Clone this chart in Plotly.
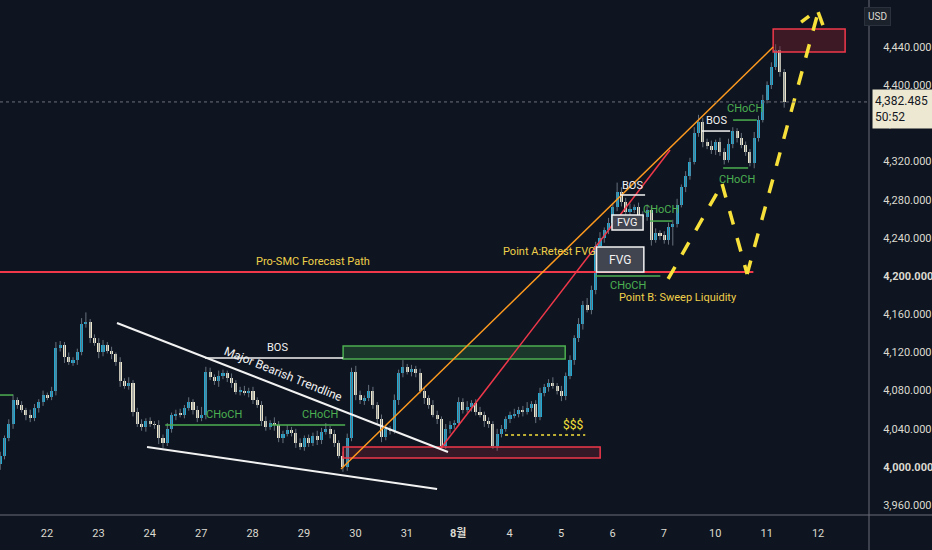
import plotly.graph_objects as go

# gold 1H chart rebuilt on ~2h bars, prices
day_labels = ["22", "23", "24", "27", "28", "29", "30", "31", "<b>8월</b>",
              "4", "5", "6", "7", "10", "11", "12"]
bars_per_day = 12
first_bar = -0.91          # first bar, in days before the "22" tick
first_open = 4003

closes = [
    4012, 4030, 4045, 4070, 4065, 4060, 4055, 4051, 4062, 4068, 4075, 4073,
    4080, 4125, 4128, 4115, 4110, 4112, 4120, 4150, 4152, 4135, 4130, 4120,
    4128, 4122, 4118, 4110, 4090, 4085, 4088, 4058, 4045, 4042, 4048, 4045,
    4044, 4030, 4025, 4040, 4054, 4056, 4055, 4062, 4068, 4060, 4051, 4055,
    4100, 4094, 4090, 4095, 4098, 4093, 4088, 4079, 4080, 4078, 4080, 4070,
    4065, 4048, 4042, 4046, 4044, 4030, 4035, 4039, 4036, 4025, 4021, 4030,
    4025, 4033, 4028, 4037, 4040, 4035, 4025, 4012, 4000, 4030, 4100, 4075,
    4070, 4072, 4080, 4065, 4050, 4031, 4040, 4038, 4070, 4098, 4105, 4100,
    4103, 4098, 4080, 4072, 4065, 4055, 4050, 4022, 4040, 4044, 4046, 4068,
    4060, 4063, 4067, 4058, 4055, 4048, 4045, 4022, 4035, 4040, 4050, 4054,
    4056, 4060, 4058, 4062, 4066, 4052, 4078, 4084, 4088, 4085, 4080, 4074,
    4095, 4112, 4135, 4150, 4170, 4165, 4185, 4232, 4240, 4248, 4256, 4272,
    4288, 4278, 4267, 4270, 4272, 4264, 4262, 4269, 4238, 4245, 4243, 4238,
    4251, 4255, 4275, 4293, 4305, 4320, 4350, 4361, 4340, 4336, 4332, 4340,
    4330, 4322, 4338, 4352, 4345, 4337, 4330, 4318, 4345, 4364, 4385, 4400,
    4419, 4437, 4414, 4382.485,
]

wick_up = [
    4, 3, 5, 6, 3, 4, 2, 5, 4, 3, 5, 3,
    4, 6, 4, 3, 5, 3, 4, 6, 10, 3, 4, 5,
    5, 3, 4, 2, 5, 3, 6, 3, 4, 5, 3, 4,
    3, 5, 4, 6, 3, 4, 5, 3, 5, 3, 4, 8,
    5, 4, 3, 6, 4, 3, 5, 3, 4, 5, 3, 4,
    3, 4, 5, 3, 6, 4, 3, 5, 3, 4, 5, 3,
    4, 3, 5, 4, 6, 3, 4, 3, 4, 5, 4, 6,
    5, 3, 6, 4, 3, 5, 4, 3, 6, 4, 7, 3,
    4, 3, 5, 4, 3, 5, 4, 3, 5, 4, 3, 5,
    4, 6, 3, 4, 5, 3, 4, 3, 5, 4, 3, 4,
    5, 3, 4, 6, 3, 4, 5, 3, 4, 6, 3, 5,
    4, 5, 3, 6, 4, 7, 5, 4, 6, 3, 5, 4,
    10, 5, 4, 6, 3, 5, 4, 6, 4, 5, 3, 4,
    5, 4, 6, 3, 5, 4, 6, 8, 5, 4, 6, 3,
    5, 4, 6, 4, 3, 5, 4, 3, 6, 4, 5, 4,
    5, 6, 4, 3,
]

wick_dn = [
    6, 4, 3, 5, 4, 3, 6, 4, 3, 5, 4, 3,
    3, 5, 4, 6, 3, 4, 5, 3, 4, 5, 3, 6,
    4, 3, 5, 4, 6, 3, 4, 5, 3, 4, 5, 3,
    4, 6, 5, 3, 4, 5, 3, 4, 3, 5, 4, 3,
    5, 3, 4, 6, 3, 4, 5, 3, 4, 3, 5, 4,
    3, 5, 4, 3, 6, 4, 5, 3, 4, 5, 3, 4,
    4, 3, 5, 4, 3, 5, 4, 3, 5, 4, 3, 5,
    4, 5, 3, 4, 6, 5, 3, 4, 3, 5, 4, 3,
    5, 4, 3, 6, 4, 3, 5, 4, 3, 5, 4, 3,
    4, 3, 5, 4, 3, 6, 4, 3, 5, 4, 3, 4,
    3, 4, 5, 3, 4, 6, 3, 4, 5, 3, 4, 5,
    4, 3, 5, 4, 6, 3, 5, 4, 3, 5, 4, 3,
    4, 5, 3, 6, 4, 3, 5, 4, 6, 3, 5, 4,
    5, 19, 4, 3, 5, 4, 3, 4, 5, 3, 4, 5,
    4, 5, 3, 4, 5, 3, 4, 3, 5, 4, 3, 4,
    4, 3, 5, 6,
]

price_ticks = list(range(3960, 4441, 40))
countdown = "50:52"

BG = "#0e1520"
UP = "#22a7d0"
DOWN = "#ece6cc"
WICK = "#66707c"
RED = "#f0384a"
GREEN = "#4caf50"
YELLOW = "#f7e03a"
GOLD = "#f0d04a"
AXIS_TXT = "#dcdad0"
FONT = "Roboto, Noto Sans CJK KR, sans-serif"

opens = [first_open] + closes[:-1]
xs = [first_bar + i / bars_per_day for i in range(len(closes))]
highs = [max(o, c) + w for o, c, w in zip(opens, closes, wick_up)]
lows = [min(o, c) - w for o, c, w in zip(opens, closes, wick_dn)]

wx, wy = [], []
for x, h, l in zip(xs, highs, lows):
    wx += [x, x, None]
    wy += [l, h, None]

fig = go.Figure()
fig.add_trace(go.Scatter(x=wx, y=wy, mode="lines", line=dict(color=WICK, width=1),
                         hoverinfo="skip", showlegend=False))
fig.add_trace(go.Bar(
    x=xs,
    base=[min(o, c) for o, c in zip(opens, closes)],
    y=[max(abs(c - o), 0.8) for o, c in zip(opens, closes)],
    width=0.72 / bars_per_day,
    marker=dict(color=[UP if c >= o else DOWN for o, c in zip(opens, closes)], line_width=0),
    showlegend=False,
))


def seg(x0, y0, x1, y1, color, width=1.5, dash=None):
    fig.add_shape(type="line", x0=x0, y0=y0, x1=x1, y1=y1, xref="x", yref="y",
                  line=dict(color=color, width=width, dash=dash))


def box(x0, y0, x1, y1, edge, fill, width=1.5):
    fig.add_shape(type="rect", x0=x0, y0=y0, x1=x1, y1=y1, xref="x", yref="y",
                  line=dict(color=edge, width=width), fillcolor=fill)


def label(x, y, text, color, size=11, angle=0, xanchor="center"):
    fig.add_annotation(x=x, y=y, text=text, showarrow=False, textangle=angle,
                       xanchor=xanchor, font=dict(color=color, size=size, family=FONT))


# zones
box(5.76, 4113.2, 10.08, 4126.8, GREEN, "rgba(76,175,80,0.22)")
box(5.76, 4009.4, 10.76, 4020.9, RED, "rgba(200,40,60,0.22)")
box(14.125, 4434.8, 15.525, 4458.9, RED, "rgba(120,30,45,0.45)")

# forecast baseline
seg(-1.0, 4204.3, 13.74, 4204.3, RED, 2)
label(5.17, 4215, "Pro-SMC Forecast Path", GOLD, 11)

# trendlines
seg(1.362, 4150.9, 7.80, 4015.7, "#f2f2f2", 2)
seg(1.946, 4020.9, 7.588, 3977.0, "#f2f2f2", 2)
label(4.59, 4097, "Major Bearish Trendline", "#f2f2f2", 12, angle=22)
seg(5.72, 3997.9, 14.125, 4440.0, "#ff9a1f", 1.5)
seg(7.665, 4019.9, 12.12, 4332.1, RED, 1.5)

# structure
seg(3.074, 4114.2, 5.759, 4114.2, "#f2f2f2", 1.5)
label(4.475, 4125, "BOS", "#f2f2f2")
seg(-1.0, 4075.4, -0.66, 4075.4, GREEN, 1.5)
seg(2.30, 4044.0, 4.15, 4044.0, GREEN, 1.5)
seg(4.35, 4044.0, 5.80, 4044.0, GREEN, 1.5)
label(3.444, 4055.5, "CHoCH", GREEN)
label(5.311, 4055.5, "CHoCH", GREEN)

box(10.69, 4204.3, 11.61, 4230.5, "#f2f2f2", "rgba(68,72,82,0.95)")
label(11.15, 4217.4, "FVG", "#f2f2f2", 12)
box(10.99, 4248.3, 11.595, 4264.0, "#f2f2f2", "rgba(68,72,82,0.95)")
label(11.29, 4256.2, "FVG", "#f2f2f2", 11)
seg(11.148, 4285.0, 11.634, 4285.0, "#f2f2f2", 1.5)
label(11.381, 4295.4, "BOS", "#f2f2f2")
seg(11.73, 4257.7, 12.16, 4257.7, GREEN, 1.5)
label(11.946, 4269.3, "CHoCH", GREEN)
seg(10.66, 4200.1, 11.93, 4200.1, GREEN, 1.5)
label(11.31, 4190.5, "CHoCH", GREEN)
label(10.72, 4225.3, "Point A:Retest FVG", GOLD, 11, xanchor="right")
label(12.276, 4178.0, "Point B: Sweep Liquidity", GOLD, 11)

seg(12.737, 4352.0, 13.288, 4352.0, "#f2f2f2", 1.5)
label(13.03, 4363.5, "BOS", "#f2f2f2")
seg(13.346, 4363.5, 13.807, 4363.5, GREEN, 1.5)
label(13.58, 4375.1, "CHoCH", GREEN)
seg(13.152, 4313.3, 13.638, 4313.3, GREEN, 1.5)
label(13.418, 4301.7, "CHoCH", GREEN)

# liquidity
seg(8.91, 4033.5, 10.47, 4033.5, YELLOW, 1.5, "dot")
label(10.233, 4044.5, "$$$", YELLOW, 12)

# projected path
path = [(12.082, 4197.0), (13.132, 4296.5), (13.619, 4202.2), (15.0, 4476.7), (15.18, 4450.0)]
for (ax, ay), (bx, by) in zip(path[:-1], path[1:]):
    seg(ax, ay, bx, by, YELLOW, 3.5, "14px,14px")
seg(14.669, 4466.2, 14.825, 4472.5, YELLOW, 3.5)

# last price line
fig.add_shape(type="line", xref="paper", x0=0, x1=868 / 932, yref="y",
              y0=closes[-1], y1=closes[-1], line=dict(color="#6b6f7a", width=1, dash="dot"))

# panel separators
fig.add_shape(type="line", xref="paper", yref="paper", x0=0, x1=1, y0=0, y1=0,
              line=dict(color="#6a6d78", width=1))
fig.add_shape(type="line", xref="paper", yref="paper", x0=869 / 932, x1=869 / 932,
              y0=-0.07, y1=1, line=dict(color="#6a6d78", width=1))

fig.add_annotation(xref="paper", x=872 / 932, xanchor="left", yref="y", y=4375.0,
                   text=f"{closes[-1]:,.3f}<br>{countdown}", showarrow=False, align="left",
                   bgcolor="#ede8d2", font=dict(color="#131722", size=12, family=FONT),
                   width=56, height=34, borderpad=2)
fig.add_annotation(xref="paper", x=891 / 932, yref="y", y=4471.5, text="USD",
                   showarrow=False, bgcolor="#1c222c", bordercolor="#2c323d", borderpad=3,
                   font=dict(color=AXIS_TXT, size=10, family=FONT))

tick_text = [f"<b>{v:,.3f}</b>" if v in (4000, 4200) else f"{v:,.3f}" for v in price_ticks]

fig.update_layout(
    width=932, height=550,
    margin=dict(l=0, r=0, t=0, b=35),
    paper_bgcolor=BG, plot_bgcolor=BG,
    font=dict(family=FONT, color=AXIS_TXT, size=12),
    showlegend=False,
    bargap=0,
    xaxis=dict(domain=[0, 868 / 932], range=[first_bar - 0.004, 15.97],
               tickvals=list(range(len(day_labels))), ticktext=day_labels,
               showgrid=False, zeroline=False, showline=False,
               ticks="outside", ticklen=8, tickcolor="rgba(0,0,0,0)",
               tickfont=dict(size=11, color=AXIS_TXT), fixedrange=True),
    yaxis=dict(side="right", range=[3949.7, 4489.3],
               tickvals=price_ticks, ticktext=tick_text,
               showgrid=False, zeroline=False, showline=False,
               ticks="outside", ticklen=12, tickcolor="rgba(0,0,0,0)",
               tickfont=dict(size=11, color=AXIS_TXT), fixedrange=True),
)

fig.write_html("out.html", config={"displayModeBar": False},
               post_script="document.body.style.margin='0';")
